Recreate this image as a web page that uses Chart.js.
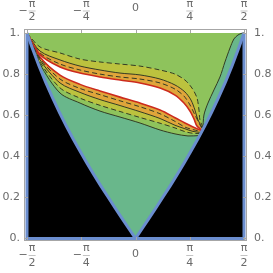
<!DOCTYPE html>
<html>
<head>
<meta charset="utf-8">
<script src="https://cdn.jsdelivr.net/npm/chart.js@4.4.0/dist/chart.umd.min.js"></script>
<style>
  html, body { margin: 0; padding: 0; background: #ffffff; }
  canvas { display: block; }
</style>
</head>
<body>
<canvas id="chart" width="273" height="273"></canvas>
<script>
const xTickValues = [-Math.PI / 2, -Math.PI / 4, 0, Math.PI / 4, Math.PI / 2];
const xTickLabels = ["−π/2", "−π/4", "0", "π/4", "π/2"];
const yTickValues = [0, 0.2, 0.4, 0.6, 0.8, 1];
const yTickLabels = ["0.", "0.2", "0.4", "0.6", "0.8", "1."];

// plot box
const xRange = [-1.5708, 1.5708];
const yRange = [0, 1];

// the blue V that bounds the region
const vLineX = [-1.5708, -1.5, -1.4, -1.3, -1.2, -1.1, -1.0, -0.9, -0.8, -0.7, -0.6, -0.5, -0.4, -0.3, -0.2, -0.1,
  0, 0.1, 0.2, 0.3, 0.4, 0.5, 0.6, 0.7, 0.8, 0.9, 1.0, 1.1, 1.2, 1.3, 1.4, 1.5, 1.5708];
const vLineY = [1.0, 0.932, 0.842, 0.760, 0.684, 0.613, 0.546, 0.483, 0.423, 0.365, 0.309, 0.255, 0.203, 0.151, 0.100, 0.050,
  0, 0.050, 0.100, 0.151, 0.203, 0.255, 0.309, 0.365, 0.423, 0.483, 0.546, 0.613, 0.684, 0.760, 0.842, 0.932, 1.0];

// contour curves, top to bottom, from the left corner to the V
const dashTop = [[-1.5708, 1], [-1.382, 0.932], [-1.093, 0.903], [-0.803, 0.873], [-0.514, 0.859], [-0.224, 0.849],
  [0.065, 0.839], [0.355, 0.820], [0.572, 0.800], [0.716, 0.771], [0.818, 0.732], [0.890, 0.684], [0.919, 0.625],
  [0.933, 0.577], [0.985, 0.536]];
const solidTop = [[-1.5708, 1], [-1.382, 0.912], [-1.093, 0.869], [-0.803, 0.839], [-0.514, 0.820], [-0.224, 0.805],
  [0.065, 0.796], [0.355, 0.776], [0.572, 0.747], [0.716, 0.713], [0.803, 0.674], [0.861, 0.625], [0.904, 0.577],
  [0.978, 0.532]];
const dashMidTop = [[-1.5708, 1], [-1.382, 0.903], [-1.093, 0.849], [-0.803, 0.820], [-0.514, 0.800], [-0.224, 0.786],
  [0.065, 0.776], [0.355, 0.757], [0.572, 0.727], [0.702, 0.693], [0.789, 0.650], [0.861, 0.601], [0.972, 0.528]];
const redTop = [[-1.5708, 1], [-1.382, 0.895], [-1.093, 0.835], [-0.803, 0.805], [-0.514, 0.786], [-0.224, 0.771],
  [0.065, 0.757], [0.355, 0.732], [0.572, 0.698], [0.702, 0.659], [0.789, 0.620], [0.847, 0.582], [0.890, 0.547],
  [0.968, 0.526]];
const redBottom = [[-1.5708, 1], [-1.382, 0.883], [-1.093, 0.795], [-0.803, 0.750], [-0.514, 0.718], [-0.224, 0.688],
  [0.065, 0.659], [0.355, 0.625], [0.572, 0.588], [0.716, 0.562], [0.818, 0.545], [0.964, 0.523]];
const dashMidBottom = [[-1.5708, 1], [-1.382, 0.876], [-1.093, 0.776], [-0.803, 0.730], [-0.514, 0.700], [-0.224, 0.670],
  [0.065, 0.641], [0.355, 0.607], [0.572, 0.570], [0.716, 0.542], [0.832, 0.530], [0.960, 0.520]];
const solidBottom = [[-1.5708, 1], [-1.382, 0.869], [-1.093, 0.757], [-0.803, 0.711], [-0.514, 0.676], [-0.224, 0.647],
  [0.065, 0.617], [0.355, 0.584], [0.572, 0.551], [0.716, 0.534], [0.832, 0.521], [0.953, 0.516]];
const dashBottom = [[-1.5708, 1], [-1.382, 0.859], [-1.093, 0.733], [-0.803, 0.683], [-0.514, 0.648], [-0.224, 0.618],
  [0.065, 0.589], [0.355, 0.561], [0.572, 0.538], [0.716, 0.520], [0.832, 0.512], [0.945, 0.511]];
const solidLow = [[-1.5708, 1], [-1.382, 0.849], [-1.093, 0.708], [-0.803, 0.659], [-0.514, 0.620], [-0.224, 0.591],
  [0.065, 0.562], [0.355, 0.528], [0.572, 0.509], [0.760, 0.499], [0.929, 0.501]];
const solidRight = [[0.975, 0.530], [0.991, 0.601], [1.049, 0.659], [1.136, 0.723], [1.223, 0.786], [1.295, 0.859],
  [1.368, 0.927], [1.425, 0.971], [1.483, 0.990], [1.540, 0.999], [1.5708, 1]];

const GREEN = "#8ec35c";
const TEAL = "#69b78b";
const YELLOW = "#bcc23e";
const ORANGE = "#dfa53a";
const DARK = "#343c24";
const RED = "#cc2a1c";
const BLUE = "#6b8ecf";

const vPoints = vLineX.map((x, i) => [x, vLineY[i]]);

function toXY(pts) {
  return pts.map((p) => ({ x: p[0], y: p[1] }));
}

// region between a curve and the V below it, closed back to the left corner
function belowCurve(curve) {
  const endX = curve[curve.length - 1][0];
  return curve.concat(vPoints.filter((p) => p[0] < endX).reverse());
}

function rightOfCurve(curve) {
  const startX = curve[0][0];
  const endX = curve[curve.length - 1][0];
  return curve.concat(vPoints.filter((p) => p[0] > startX && p[0] < endX).reverse());
}

function area(pts, color, order, tension = 0.3) {
  return {
    data: toXY(pts),
    fill: "shape",
    backgroundColor: color,
    borderColor: "transparent",
    borderWidth: 0,
    pointRadius: 0,
    tension: tension,
    order: order
  };
}

function curve(pts, color, width, dash, order, tension = 0.3) {
  return {
    data: toXY(pts),
    fill: false,
    borderColor: color,
    borderWidth: width,
    borderDash: dash,
    pointRadius: 0,
    tension: tension,
    order: order
  };
}

const boxPoints = [[xRange[0], yRange[1]], [xRange[0], yRange[0]], [xRange[1], yRange[0]], [xRange[1], yRange[1]]];

const datasets = [
  area(boxPoints, "#000000", 60, 0),
  area(vPoints, GREEN, 59, 0),
  area(belowCurve(dashTop), YELLOW, 58),
  area(belowCurve(solidTop), ORANGE, 57),
  area(belowCurve(redTop), "#ffffff", 56),
  area(belowCurve(redBottom), ORANGE, 55),
  area(belowCurve(solidBottom), YELLOW, 54),
  area(belowCurve(dashBottom), GREEN, 53),
  area(belowCurve(solidLow), TEAL, 52),
  area(rightOfCurve(solidRight), TEAL, 51),
  curve(dashTop, DARK, 1, [5, 3], 30),
  curve(solidTop, DARK, 1, [], 29),
  curve(dashMidTop, DARK, 1, [5, 3], 28),
  curve(redTop, RED, 1.6, [], 27),
  curve(redBottom, RED, 1.6, [], 26),
  curve(dashMidBottom, DARK, 1, [5, 3], 25),
  curve(solidBottom, DARK, 1, [], 24),
  curve(dashBottom, DARK, 1, [5, 3], 23),
  curve(solidLow, DARK, 1, [], 22),
  curve(solidRight, DARK, 1, [], 21),
  curve(vPoints, BLUE, 3, [], 2, 0),
  curve(boxPoints, BLUE, 3, [], 1, 0)
];

function drawXLabel(ctx, cx, label, numY, denY, midY) {
  let sign = "";
  let body = label;
  if (body.startsWith("−")) {
    sign = "−";
    body = body.slice(1);
  }
  const parts = body.split("/");
  if (parts.length === 1) {
    ctx.textAlign = "center";
    ctx.fillText(body, cx, midY);
    return;
  }
  const fw = Math.max(ctx.measureText(parts[0]).width, ctx.measureText(parts[1]).width);
  const sw = sign ? ctx.measureText(sign).width + 1 : 0;
  const left = cx - (sw + fw) / 2;
  if (sign) {
    ctx.textAlign = "left";
    ctx.fillText(sign, left, midY);
  }
  const fc = left + sw + fw / 2;
  ctx.textAlign = "center";
  ctx.fillText(parts[0], fc, numY);
  ctx.fillText(parts[1], fc, denY);
  ctx.save();
  ctx.fillStyle = "#c4c4c4";
  ctx.fillRect(fc - fw / 2, midY - 0.5, fw, 1);
  ctx.restore();
}

const frameAxes = {
  id: "frameAxes",
  afterDraw(chart) {
    const { ctx, chartArea: a, scales: { x, y } } = chart;
    ctx.save();
    ctx.strokeStyle = "#a6a6a6";
    ctx.lineWidth = 1;
    ctx.strokeRect(a.left + 0.5, a.top + 0.5, a.right - a.left - 1, a.bottom - a.top - 1);
    ctx.beginPath();
    xTickValues.forEach((v) => {
      const px = Math.round(x.getPixelForValue(v)) + 0.5;
      ctx.moveTo(px, a.bottom);
      ctx.lineTo(px, a.bottom - 4);
      ctx.moveTo(px, a.top);
      ctx.lineTo(px, a.top + 4);
    });
    yTickValues.forEach((v) => {
      const py = Math.round(y.getPixelForValue(v)) + 0.5;
      ctx.moveTo(a.left, py);
      ctx.lineTo(a.left + 4, py);
      ctx.moveTo(a.right, py);
      ctx.lineTo(a.right - 4, py);
    });
    ctx.stroke();

    ctx.fillStyle = "#6a6a6a";
    ctx.font = '11px "DejaVu Sans"';
    ctx.textBaseline = "middle";
    xTickValues.forEach((v, i) => {
      const px = x.getPixelForValue(v);
      drawXLabel(ctx, px, xTickLabels[i], 248, 263, xTickLabels[i] === "0" ? 254 : 255.5);
      drawXLabel(ctx, px, xTickLabels[i], 4, 17.5, xTickLabels[i] === "0" ? 8 : 11);
    });
    yTickValues.forEach((v, i) => {
      const py = y.getPixelForValue(v);
      ctx.textAlign = "right";
      ctx.fillText(yTickLabels[i], 20, py);
      ctx.textAlign = "left";
      ctx.fillText(yTickLabels[i], 254, py);
    });
    ctx.restore();
  }
};

new Chart(document.getElementById("chart"), {
  type: "line",
  data: { datasets: datasets },
  options: {
    responsive: false,
    animation: false,
    layout: { padding: { left: 24, right: 26, top: 29, bottom: 32 } },
    plugins: {
      legend: { display: false },
      tooltip: { enabled: false }
    },
    scales: {
      x: { type: "linear", min: -1.6142, max: 1.6142, display: false },
      y: { type: "linear", min: -0.0122, max: 1.0195, display: false }
    }
  },
  plugins: [frameAxes]
});
</script>
</body>
</html>
